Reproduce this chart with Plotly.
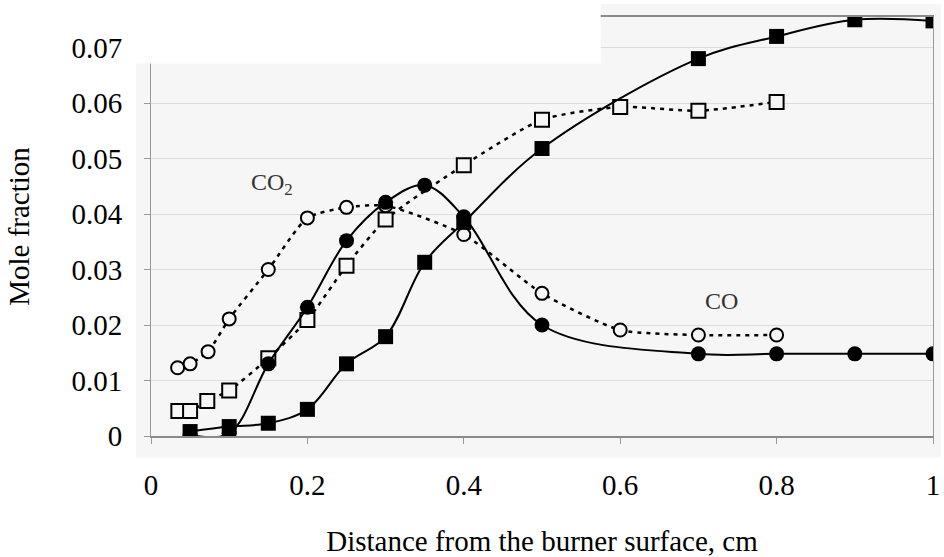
import plotly.graph_objects as go

# ---- data ----
x_sq_fill = [0.05, 0.1, 0.15, 0.2, 0.25, 0.3, 0.35, 0.4, 0.5, 0.7, 0.8, 0.9, 1.0]
y_sq_fill = [0.0008, 0.0017, 0.0023, 0.0048, 0.013, 0.0179, 0.0313, 0.0385, 0.0518, 0.068, 0.072, 0.075, 0.0748]

x_sq_open = [0.035, 0.05, 0.072, 0.1, 0.15, 0.2, 0.25, 0.3, 0.4, 0.5, 0.6, 0.7, 0.8]
y_sq_open = [0.0045, 0.0045, 0.0063, 0.0082, 0.014, 0.0209, 0.0307, 0.039, 0.0488, 0.057, 0.0593, 0.0586, 0.0602]

x_ci_fill = [0.05, 0.1, 0.15, 0.2, 0.25, 0.3, 0.35, 0.4, 0.5, 0.7, 0.8, 0.9, 1.0]
y_ci_fill = [0.0002, 0.0005, 0.013, 0.0232, 0.0352, 0.0421, 0.0452, 0.0395, 0.02, 0.0148, 0.0148, 0.0148, 0.0148]

x_ci_open = [0.034, 0.05, 0.073, 0.1, 0.15, 0.2, 0.25, 0.3, 0.4, 0.5, 0.6, 0.7, 0.8]
y_ci_open = [0.0123, 0.013, 0.0152, 0.0211, 0.030, 0.0393, 0.0412, 0.0415, 0.0363, 0.0257, 0.0191, 0.0182, 0.0182]

x_ticks = [0, 0.2, 0.4, 0.6, 0.8, 1.0]
x_ticktext = ["0", "0.2", "0.4", "0.6", "0.8", "1"]
y_ticks = [0, 0.01, 0.02, 0.03, 0.04, 0.05, 0.06, 0.07]
y_ticktext = ["0", "0.01", "0.02", "0.03", "0.04", "0.05", "0.06", "0.07"]

labels = [("CO<sub>2</sub>", 0.155, 0.0454), ("CO", 0.729, 0.0243)]

BG = "#f6f6f6"
FONT = "Liberation Serif, Times New Roman, serif"

fig = go.Figure()

# open circles, dashed
fig.add_trace(go.Scatter(
    x=x_ci_open, y=y_ci_open, mode="lines+markers",
    line=dict(color="black", width=2.5, dash="4px,5px", shape="spline", smoothing=0.6),
    marker=dict(symbol="circle", size=13, color=BG, line=dict(color="black", width=2)),
    showlegend=False))
# open squares, dashed
fig.add_trace(go.Scatter(
    x=x_sq_open, y=y_sq_open, mode="lines+markers",
    line=dict(color="black", width=2.5, dash="4px,5px", shape="spline", smoothing=0.6),
    marker=dict(symbol="square", size=14, color=BG, line=dict(color="black", width=2)),
    showlegend=False))
# filled squares, solid
fig.add_trace(go.Scatter(
    x=x_sq_fill, y=y_sq_fill, mode="lines+markers",
    line=dict(color="black", width=2, shape="spline", smoothing=1.0),
    marker=dict(symbol="square", size=15, color="black"),
    showlegend=False))
# filled circles, solid
fig.add_trace(go.Scatter(
    x=x_ci_fill, y=y_ci_fill, mode="lines+markers",
    line=dict(color="black", width=2, shape="spline", smoothing=1.0),
    marker=dict(symbol="circle", size=15, color="black"),
    showlegend=False))

for txt, lx, ly in labels:
    fig.add_annotation(x=lx, y=ly, text=txt, showarrow=False,
                       font=dict(family=FONT, size=24, color="#333333"))

# extended grey panel and white box at top-left, as in the reference
fig.add_shape(type="rect", xref="paper", yref="paper",
              x0=-0.019, x1=1.01, y0=-0.052, y1=1.031,
              fillcolor=BG, line=dict(width=0), layer="below")
fig.add_shape(type="rect", xref="paper", yref="paper",
              x0=-0.019, x1=0.575, y0=0.889, y1=1.1,
              fillcolor="white", line=dict(width=0), layer="above")

fig.update_layout(
    width=944, height=557,
    margin=dict(l=151, r=4, t=17, b=117),
    paper_bgcolor="white", plot_bgcolor=BG,
    font=dict(family=FONT, size=29, color="black"),
    xaxis=dict(
        range=[0, 1.0], tickvals=x_ticks, ticktext=x_ticktext,
        showgrid=False, zeroline=False,
        showline=True, linecolor="#8a8a8a", linewidth=1.5, mirror=True,
        ticks="outside", ticklen=6, tickcolor="#999999", tickwidth=1,
        ticklabelstandoff=16, ticklabeloverflow="allow",
        title=dict(text="Distance from the burner surface, cm", standoff=32,
                   font=dict(family=FONT, size=29)),
        tickfont=dict(family=FONT, size=29),
    ),
    yaxis=dict(
        range=[0, 0.0755], tickvals=y_ticks, ticktext=y_ticktext,
        showgrid=True, gridcolor="#dddddd", gridwidth=1, zeroline=False,
        showline=True, linecolor="#9a9a9a", linewidth=1, mirror=True,
        ticks="outside", ticklen=6, tickcolor="#999999", tickwidth=1,
        ticklabelstandoff=16,
        title=dict(text="Mole fraction", standoff=33,
                   font=dict(family=FONT, size=29)),
        tickfont=dict(family=FONT, size=29),
    ),
)

fig.write_html("out.html")
